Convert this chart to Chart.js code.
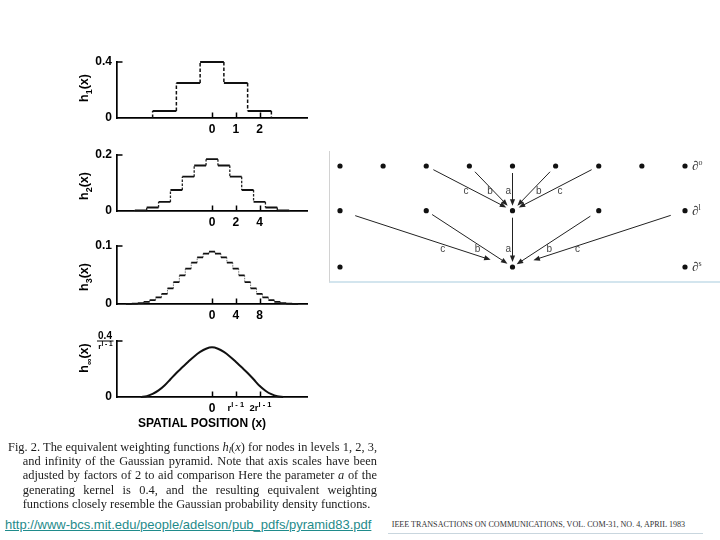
<!DOCTYPE html>
<html>
<head>
<meta charset="utf-8">
<script src="https://cdn.jsdelivr.net/npm/chart.js@4.4.0/dist/chart.umd.min.js"></script>
<style>
html,body{margin:0;padding:0;background:#fff;}
body{width:720px;height:540px;position:relative;overflow:hidden;}
.abs{position:absolute;}
canvas{display:block;}
#cap{left:8px;top:440px;width:369px;font-family:"Liberation Serif","Times New Roman",serif;font-size:12.4px;line-height:14.2px;color:#1b1b1b;}
#cap div{text-align:justify;text-align-last:justify;height:14.2px;}
#cap div.ind{margin-left:14.7px;}
#cap div.last{text-align-last:left;}
#cap sub{font-size:0.7em;vertical-align:-0.25em;line-height:0;}
#url{left:5px;top:517px;font-family:"Liberation Sans",Arial,sans-serif;font-size:13px;color:#1f8b8b;text-decoration:underline;white-space:nowrap;}
#ieee{left:391.7px;top:520px;font-family:"Liberation Serif","Times New Roman",serif;font-size:8.1px;color:#333;white-space:nowrap;}
#ieeeLine{left:388px;top:533px;width:315px;height:1px;background:#c9d6de;}
#frame{left:329px;top:151px;width:391px;height:130px;border-left:1px solid #d2d2d2;border-bottom:2px solid #d3e5ee;}
</style>
</head>
<body>
<canvas id="p1" class="abs"></canvas>
<canvas id="p2" class="abs"></canvas>
<canvas id="p3" class="abs"></canvas>
<canvas id="p4" class="abs"></canvas>
<div id="frame" class="abs"></div>
<canvas id="dg" class="abs"></canvas>
<div id="cap" class="abs">
<div>Fig. 2. The equivalent weighting functions <i>h<sub>l</sub></i>(<i>x</i>) for nodes in levels 1, 2, 3,</div>
<div class="ind">and infinity of the Gaussian pyramid. Note that axis scales have been</div>
<div class="ind">adjusted by factors of 2 to aid comparison Here the parameter <i>a</i> of the</div>
<div class="ind">generating kernel is 0.4, and the resulting equivalent weighting</div>
<div class="ind last">functions closely resemble the Gaussian probability density functions.</div>
</div>
<a id="url" class="abs" href="http://www-bcs.mit.edu/people/adelson/pub_pdfs/pyramid83.pdf">http://www-bcs.mit.edu/people/adelson/pub_pdfs/pyramid83.pdf</a>
<div id="ieee" class="abs">IEEE TRANSACTIONS ON COMMUNICATIONS, VOL. COM-31, NO. 4, APRIL 1983</div>
<div id="ieeeLine" class="abs"></div>
<script>
// ---------- data ----------
const h1Pos = [-2, -1, 0, 1, 2];
const h1Val = [0.05, 0.25, 0.40, 0.25, 0.05];

const h2Pos = [-6, -5, -4, -3, -2, -1, 0, 1, 2, 3, 4, 5, 6];
const h2Val = [0.0025, 0.0125, 0.0325, 0.075, 0.1225, 0.1625, 0.185, 0.1625, 0.1225, 0.075, 0.0325, 0.0125, 0.0025];

const h3Pos = [-14, -13, -12, -11, -10, -9, -8, -7, -6, -5, -4, -3, -2, -1, 0, 1, 2, 3, 4, 5, 6, 7, 8, 9, 10, 11, 12, 13, 14];
const h3Val = [0.0001, 0.0006, 0.0016, 0.0038, 0.0068, 0.0113, 0.0174, 0.0269, 0.0378, 0.0494, 0.0609, 0.0713, 0.0804, 0.0869, 0.0903,
               0.0869, 0.0804, 0.0713, 0.0609, 0.0494, 0.0378, 0.0269, 0.0174, 0.0113, 0.0068, 0.0038, 0.0016, 0.0006, 0.0001];

const hInfX = [-3, -2.75, -2.5, -2.25, -2, -1.75, -1.5, -1.25, -1, -0.75, -0.5, -0.25, 0, 0.25, 0.5, 0.75, 1, 1.25, 1.5, 1.75, 2, 2.25, 2.5, 2.75, 3];
const hInfY = [0, 0.006, 0.022, 0.047, 0.082, 0.127, 0.172, 0.212, 0.252, 0.29, 0.322, 0.345, 0.355, 0.345, 0.322, 0.29, 0.252, 0.212, 0.172, 0.127, 0.08, 0.045, 0.02, 0.005, 0];

const h1XTicks = [0, 1, 2],  h1YTicks = [0, 0.4];
const h2XTicks = [0, 2, 4],  h2YTicks = [0, 0.2];
const h3XTicks = [0, 4, 8],  h3YTicks = [0, 0.1];
const hInfXTicks = [0, 1, 2], hInfYTicks = [0, 0.4];

// diagram (pyramid levels)
const dgLevelY = [0, 1, 2.26];
const dgNodes = [[-4, -3, -2, -1, 0, 1, 2, 3, 4], [-4, -2, 0, 2, 4], [-4, 0, 4]];
const dgArrows = [[0, -2, 1, 0], [0, -1, 1, 0], [0, 0, 1, 0], [0, 1, 1, 0], [0, 2, 1, 0],
                  [1, -4, 2, 0], [1, -2, 2, 0], [1, 0, 2, 0], [1, 2, 2, 0], [1, 4, 2, 0]];
const dgWeights = ['c', 'b', 'a', 'b', 'c', 'c', 'b', 'a', 'b', 'c'];
const dgWeightX = [-1.08, -0.52, -0.10, 0.61, 1.10, -1.62, -0.81, -0.10, 0.85, 1.51];
const dgWeightY = [0.575, 0.575, 0.575, 0.575, 0.575, 1.868, 1.868, 1.868, 1.868, 1.868];
const dgRowSup = ['o', 'l', 's'];

// ---------- helpers ----------
const SANS = '"Liberation Sans", Arial, sans-serif';
function rich(ctx, parts, x, y, align, rot) {
  ctx.save();
  ctx.translate(x, y);
  if (rot) ctx.rotate(rot);
  ctx.textBaseline = 'alphabetic';
  ctx.textAlign = 'left';
  ctx.fillStyle = '#000';
  let w = 0;
  const ws = parts.map(p => { ctx.font = 'bold ' + p[1] + 'px ' + SANS; const m = ctx.measureText(p[0]).width; w += m; return m; });
  let cx = align === 'center' ? -w / 2 : (align === 'right' ? -w : 0);
  parts.forEach((p, i) => { ctx.font = 'bold ' + p[1] + 'px ' + SANS; ctx.fillText(p[0], cx, p[2]); cx += ws[i]; });
  ctx.restore();
}

function stepData(pos, val) {
  const hor = [], ver = [];
  const n = pos.length;
  for (let i = 0; i < n; i++) {
    hor.push({x: pos[i] - 0.5, y: val[i]}, {x: pos[i] + 0.5, y: val[i]}, {x: pos[i] + 0.5, y: null});
  }
  ver.push({x: pos[0] - 0.5, y: 0}, {x: pos[0] - 0.5, y: val[0]}, {x: pos[0] - 0.5, y: null});
  for (let i = 0; i < n - 1; i++) {
    const xb = pos[i] + 0.5;
    ver.push({x: xb, y: val[i]}, {x: xb, y: val[i + 1]}, {x: xb, y: null});
  }
  ver.push({x: pos[n - 1] + 0.5, y: val[n - 1]}, {x: pos[n - 1] + 0.5, y: 0});
  return {hor, ver};
}

const CW = 330, PADL = 77, YW = 40, XH = 20, PADT = 22;

function makePanel(p) {
  const cv = document.getElementById(p.id);
  const canvasTop = p.top - PADT;
  const H = p.canvasBottom - canvasTop;
  cv.width = CW; cv.height = H;
  cv.style.left = '0px'; cv.style.top = canvasTop + 'px';
  const padB = H - (p.bottom - canvasTop) - XH;

  let datasets;
  if (p.smooth) {
    datasets = [{data: p.smooth.x.map((x, i) => ({x, y: p.smooth.y[i]})), showLine: true, borderColor: '#111', borderWidth: 2,
                 pointRadius: 0, tension: 0.4, cubicInterpolationMode: 'monotone', clip: false}];
  } else {
    const s = stepData(p.pos, p.val);
    datasets = [
      {data: s.hor, showLine: true, borderColor: '#111', borderWidth: p.hw, pointRadius: 0, spanGaps: false, clip: false},
      {data: s.ver, showLine: true, borderColor: p.vc, borderWidth: p.vw, borderDash: p.dash, pointRadius: 0, spanGaps: false, clip: false}
    ];
  }

  const plugin = {
    id: 'deco' + p.id,
    afterDraw(chart) {
      const ctx = chart.ctx, xs = chart.scales.x, ys = chart.scales.y, a = chart.chartArea;
      ctx.save();
      ctx.strokeStyle = '#000';
      ctx.lineWidth = 1.5;
      p.xt.forEach(v => {
        const px = Math.round(xs.getPixelForValue(v)) + 0.5;
        ctx.beginPath(); ctx.moveTo(px, a.bottom); ctx.lineTo(px, a.bottom - 5.5); ctx.stroke();
      });
      const py = ys.getPixelForValue(p.yt[1]);
      ctx.beginPath(); ctx.moveTo(a.left, py); ctx.lineTo(a.left + 5.5, py); ctx.stroke();
      ctx.restore();
      rich(ctx, [['h', 12.5, 0], [p.sub, 9, 3.5], ['(x)', 12.5, 0]], 88, p.titleY - canvasTop, 'center', -Math.PI / 2);
      if (p.smooth) {
        const yTop = ys.getPixelForValue(p.yt[1]);
        rich(ctx, [['0.4', 10, 0]], 105, yTop - 2, 'center');
        ctx.save(); ctx.strokeStyle = '#000'; ctx.lineWidth = 1;
        ctx.beginPath(); ctx.moveTo(97, yTop); ctx.lineTo(113.5, yTop); ctx.stroke(); ctx.restore();
        rich(ctx, [['r', 8, 0], ['l - 1', 6.5, -2.5]], 105.5, yTop + 7.5, 'center');
        const yb = a.bottom + 14;
        rich(ctx, [['r', 9.5, 0], ['l - 1', 7.5, -4]], xs.getPixelForValue(1), yb, 'center');
        rich(ctx, [['2r', 9.5, 0], ['l - 1', 7.5, -4]], xs.getPixelForValue(2) + 1, yb, 'center');
        rich(ctx, [['SPATIAL POSITION (x)', 12, 0]], 202, 427 - canvasTop, 'center');
      }
    }
  };

  new Chart(cv, {
    type: 'scatter',
    data: {datasets},
    options: {
      responsive: false, animation: false, events: [],
      layout: {padding: {left: PADL, right: CW - 307, top: PADT, bottom: padB}},
      plugins: {legend: {display: false}, tooltip: {enabled: false}},
      scales: {
        x: {
          type: 'linear', min: p.xmin, max: p.xmax,
          afterBuildTicks: s => { s.ticks = p.xt.map(v => ({value: v})); },
          afterFit: s => { s.height = XH; },
          grid: {display: false, drawTicks: false},
          border: {display: true, color: '#000', width: 1.7},
          ticks: {padding: 4, autoSkip: false, maxRotation: 0, color: '#000',
                  font: {family: SANS, weight: 'bold', size: 12},
                  callback: v => (p.smooth && v !== 0) ? '' : String(v)}
        },
        y: {
          type: 'linear', min: 0, max: p.yt[1],
          afterBuildTicks: s => { s.ticks = p.yt.map(v => ({value: v})); },
          afterFit: s => { s.width = YW; },
          grid: {display: false, drawTicks: false},
          border: {display: true, color: '#000', width: 1.7},
          ticks: {padding: 5, autoSkip: false, color: '#000',
                  font: {family: SANS, weight: 'bold', size: 12},
                  callback: v => (p.smooth && v !== 0) ? '' : String(v)}
        }
      }
    },
    plugins: [plugin]
  });
}

makePanel({id: 'p1', top: 62, bottom: 118, canvasBottom: 142, xmin: -4, xmax: 4, pos: h1Pos, val: h1Val,
           xt: h1XTicks, yt: h1YTicks, sub: '1', titleY: 88, hw: 2, vw: 1.5, vc: '#111', dash: [3.5, 2]});
makePanel({id: 'p2', top: 155, bottom: 211, canvasBottom: 235, xmin: -8, xmax: 8, pos: h2Pos, val: h2Val,
           xt: h2XTicks, yt: h2YTicks, sub: '2', titleY: 186, hw: 1.8, vw: 1.3, vc: '#222', dash: [2.5, 1.5]});
makePanel({id: 'p3', top: 246, bottom: 304, canvasBottom: 328, xmin: -16, xmax: 16, pos: h3Pos, val: h3Val,
           xt: h3XTicks, yt: h3YTicks, sub: '3', titleY: 277, hw: 1.7, vw: 1, vc: '#777', dash: [1.5, 1]});
makePanel({id: 'p4', top: 341, bottom: 397, canvasBottom: 434, xmin: -4, xmax: 4, smooth: {x: hInfX, y: hInfY},
           xt: hInfXTicks, yt: hInfYTicks, sub: '\u221E', titleY: 358});

// ---------- pyramid diagram ----------
(function () {
  const cv = document.getElementById('dg');
  cv.width = 390; cv.height = 135;
  cv.style.left = '330px'; cv.style.top = '150px';
  const pts = [];
  dgNodes.forEach((row, l) => row.forEach(x => pts.push({x, y: dgLevelY[l]})));
  const gaps = [[8, 7], [8, 7], [7, 5], [8, 7], [8, 7], [16, 23], [7, 6], [7, 5], [10, 5], [15, 22]];
  const deco = {
    id: 'dgdeco',
    afterDatasetsDraw(chart) {
      const ctx = chart.ctx, xs = chart.scales.x, ys = chart.scales.y;
      ctx.save();
      ctx.strokeStyle = '#222'; ctx.fillStyle = '#222'; ctx.lineWidth = 1;
      dgArrows.forEach((a, i) => {
        const x0 = xs.getPixelForValue(a[1]), y0 = ys.getPixelForValue(dgLevelY[a[0]]);
        const x1 = xs.getPixelForValue(a[3]), y1 = ys.getPixelForValue(dgLevelY[a[2]]);
        const dx = x1 - x0, dy = y1 - y0, L = Math.hypot(dx, dy), ux = dx / L, uy = dy / L;
        const sx = x0 + ux * gaps[i][0], sy = y0 + uy * gaps[i][0];
        const ex = x1 - ux * gaps[i][1], ey = y1 - uy * gaps[i][1];
        const hl = 6.5, hw = 2.6;
        ctx.beginPath(); ctx.moveTo(sx, sy); ctx.lineTo(ex - ux * hl * 0.7, ey - uy * hl * 0.7); ctx.stroke();
        ctx.beginPath();
        ctx.moveTo(ex, ey);
        ctx.lineTo(ex - ux * hl - uy * hw, ey - uy * hl + ux * hw);
        ctx.lineTo(ex - ux * hl + uy * hw, ey - uy * hl - ux * hw);
        ctx.closePath(); ctx.fill();
      });
      ctx.fillStyle = '#444';
      ctx.font = '10px ' + SANS;
      ctx.textAlign = 'center'; ctx.textBaseline = 'middle';
      dgWeights.forEach((w, i) => ctx.fillText(w, xs.getPixelForValue(dgWeightX[i]), ys.getPixelForValue(dgWeightY[i])));
      ctx.fillStyle = '#333';
      ctx.textAlign = 'left'; ctx.textBaseline = 'alphabetic';
      dgLevelY.forEach((ly, i) => {
        const px = xs.getPixelForValue(4) + 7, py = ys.getPixelForValue(ly) + 4;
        ctx.font = '13px "Liberation Serif", serif';
        ctx.fillText('\u2202', px, py);
        const w = ctx.measureText('\u2202').width;
        ctx.font = '8px "Liberation Serif", serif';
        ctx.fillText(dgRowSup[i], px + w, py - 5);
      });
      ctx.restore();
    }
  };
  new Chart(cv, {
    type: 'scatter',
    data: {datasets: [{data: pts, pointRadius: 2.6, pointBackgroundColor: '#111', pointBorderWidth: 0, clip: false}]},
    options: {
      responsive: false, animation: false, events: [],
      layout: {padding: {left: 10, right: 35, top: 16, bottom: 18}},
      plugins: {legend: {display: false}, tooltip: {enabled: false}},
      scales: {
        x: {type: 'linear', display: false, min: -4, max: 4},
        y: {type: 'linear', display: false, min: 0, max: 2.26, reverse: true}
      }
    },
    plugins: [deco]
  });
})();
</script>
</body>
</html>
